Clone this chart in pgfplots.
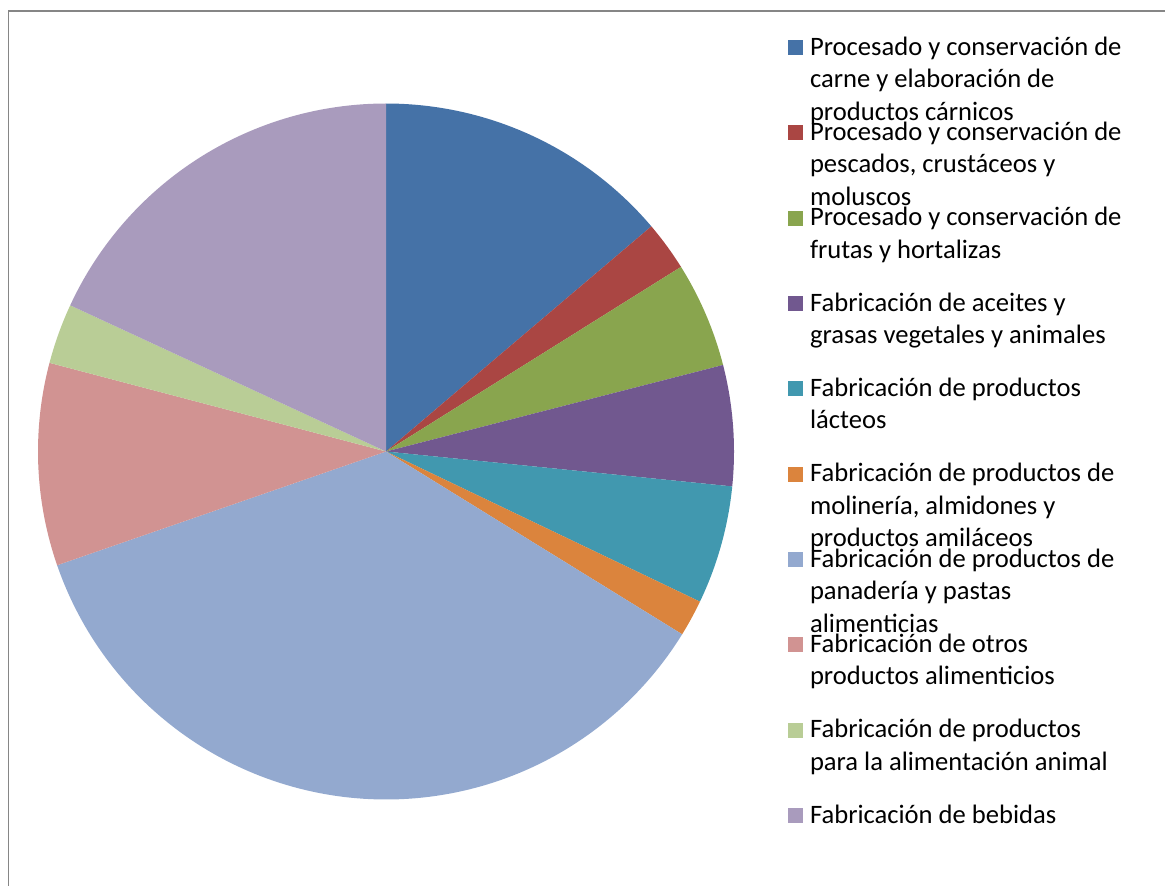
\documentclass[border=0pt]{standalone}
\usepackage{pgfplots}
\pgfplotsset{compat=1.18}
\usepackage{fontspec}
\setmainfont{Carlito}
\definecolor{c1}{HTML}{4572A7}
\definecolor{c2}{HTML}{AA4643}
\definecolor{c3}{HTML}{89A54E}
\definecolor{c4}{HTML}{71588F}
\definecolor{c5}{HTML}{4198AF}
\definecolor{c6}{HTML}{DB843D}
\definecolor{c7}{HTML}{93A9CF}
\definecolor{c8}{HTML}{D19392}
\definecolor{c9}{HTML}{B9CD96}
\definecolor{c10}{HTML}{A99BBD}
\definecolor{framegray}{HTML}{868686}
\newcommand{\LE}[1]{\smash{\begin{tabular}[t]{@{}l@{}}#1\end{tabular}}}
% Shares (%): 13.8, 2.3, 4.9, 5.6, 5.5, 1.7, 35.9, 9.4, 2.8, 18.1
% slice angles: start 90, clockwise, 3.6 degrees per percent
\begin{document}
\begin{tikzpicture}
\useasboundingbox (0,0) rectangle (582.5pt,-443pt);
\draw[framegray, line width=0.65pt] (4.25pt,-443pt) -- (4.25pt,-5.5pt) -- (582.5pt,-5.5pt);
\begin{axis}[
  at={(193pt,-225.75pt)}, anchor=center,
  scale only axis, width=348pt, height=348pt,
  xmin=-1, xmax=1, ymin=-1, ymax=1,
  hide axis, clip=false,
  samples=120,
  legend image code/.code={\path[#1,draw=none] (0pt,11.4pt) rectangle (7.5pt,18.9pt);},
  legend cell align=left,
  legend style={draw=none, fill=none, inner sep=0pt, outer sep=0pt,
    row sep=0pt, column sep=3.5pt,
    nodes={inner sep=0pt, outer sep=0pt, text height=10pt, text depth=32.67pt},
    font=\fontsize{13.3}{16.25}\selectfont,
    at={(1.0776,1.0984)}, anchor=north west},
]
\addplot[fill=c1, draw=none, domain=40.32:90] ({cos(x)},{sin(x)}) -- (0,0) -- cycle;
\addlegendentry{\LE{Procesado y conservación de\\carne y elaboración de\\productos cárnicos}}
\addplot[fill=c2, draw=none, domain=32.04:40.32] ({cos(x)},{sin(x)}) -- (0,0) -- cycle;
\addlegendentry{\LE{Procesado y conservación de\\pescados, crustáceos y\\moluscos}}
\addplot[fill=c3, draw=none, domain=14.4:32.04] ({cos(x)},{sin(x)}) -- (0,0) -- cycle;
\addlegendentry{\LE{Procesado y conservación de\\frutas y hortalizas}}
\addplot[fill=c4, draw=none, domain=-5.76:14.4] ({cos(x)},{sin(x)}) -- (0,0) -- cycle;
\addlegendentry{\LE{Fabricación de aceites y\\grasas vegetales y animales}}
\addplot[fill=c5, draw=none, domain=-25.56:-5.76] ({cos(x)},{sin(x)}) -- (0,0) -- cycle;
\addlegendentry{\LE{Fabricación de productos\\lácteos}}
\addplot[fill=c6, draw=none, domain=-31.68:-25.56] ({cos(x)},{sin(x)}) -- (0,0) -- cycle;
\addlegendentry{\LE{Fabricación de productos de\\molinería, almidones y\\productos amiláceos}}
\addplot[fill=c7, draw=none, domain=-160.92:-31.68] ({cos(x)},{sin(x)}) -- (0,0) -- cycle;
\addlegendentry{\LE{Fabricación de productos de\\panadería y pastas\\alimenticias}}
\addplot[fill=c8, draw=none, domain=-194.76:-160.92] ({cos(x)},{sin(x)}) -- (0,0) -- cycle;
\addlegendentry{\LE{Fabricación de otros\\productos alimenticios}}
\addplot[fill=c9, draw=none, domain=-204.84:-194.76] ({cos(x)},{sin(x)}) -- (0,0) -- cycle;
\addlegendentry{\LE{Fabricación de productos\\para la alimentación animal}}
\addplot[fill=c10, draw=none, domain=-270:-204.84] ({cos(x)},{sin(x)}) -- (0,0) -- cycle;
\addlegendentry{\LE{Fabricación de bebidas}}
\end{axis}
\end{tikzpicture}
\end{document}
